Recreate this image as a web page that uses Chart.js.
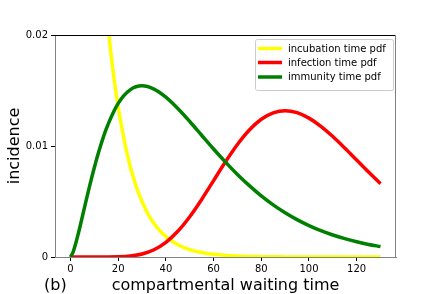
<!DOCTYPE html>
<html>
<head>
<meta charset="utf-8">
<script src="https://cdn.jsdelivr.net/npm/chart.js@4"></script>
<style>
html,body{margin:0;padding:0;background:#fff;}
canvas{display:block;}
</style>
</head>
<body>
<canvas id="c" width="440" height="294"></canvas>
<script>
// ---- data ----
const seriesNames = ["incubation time pdf", "infection time pdf", "immunity time pdf"];
const seriesColors = ["#ffff00", "#ff0000", "#008000"];

const incubationT = [0,4,8,12,14,16,18,20,22,24,26,28,30,33,36,40,45,50,55,60,70,80,90,100,110,120,130];
const incubation  = [0.1,0.067,0.0449,0.0301,0.0247,0.0202,0.0165,0.0135,0.0111,0.00907,0.00743,0.00608,0.00498,0.00369,0.00273,0.00183,0.00111,0.00067,0.00041,0.00025,0.00009,0.00003,0.00001,0,0,0,0];

const infectionT = [0,10,15,20,25,30,35,40,45,50,55,60,65,70,75,80,85,90,95,100,105,110,115,120,125,130];
const infection  = [0,0,0.0000024,0.000019,0.000086,0.00027,0.000656,0.001323,0.002317,0.003627,0.005187,0.006884,0.008581,0.010141,0.011444,0.012408,0.012987,0.013176,0.013,0.012511,0.011772,0.010853,0.00982,0.008737,0.007652,0.006605];

const immunityT = [0,1,2,3,4,6,8,10,12,15,20,25,30,35,40,45,50,55,60,65,70,75,80,85,90,95,100,105,110,115,120,125,130];
const immunity  = [0,0.0004,0.00108,0.00188,0.00275,0.00458,0.00638,0.00807,0.00959,0.01154,0.01384,0.01506,0.01542,0.01513,0.0144,0.01338,0.01221,0.01097,0.00973,0.00855,0.00744,0.00643,0.00551,0.0047,0.00399,0.00337,0.00283,0.00237,0.00198,0.00165,0.00137,0.00113,0.00094];

const xTicks = [0,20,40,60,80,100,120];
const yTicks = [0,0.01,0.02];
const yTickLabels = ["0","0.01","0.02"];
const xTitle = "compartmental waiting time";
const yTitle = "incidence";
const panelLabel = "(b)";

// ---- chart ----
const FONT = "'DejaVu Sans', sans-serif";
function pts(t, v){ return t.map((x,i)=>({x:x, y:v[i]})); }

const allT = [incubationT, infectionT, immunityT];
const allV = [incubation, infection, immunity];

const datasets = seriesNames.map((name,i)=>({
  label: name,
  data: pts(allT[i], allV[i]),
  borderColor: seriesColors[i],
  backgroundColor: seriesColors[i],
  borderWidth: 3.5,
  pointRadius: 0,
  fill: false,
  cubicInterpolationMode: 'monotone',
  order: 3 - i
}));

const decor = {
  id: 'decor',
  afterDraw(chart){
    const ctx = chart.ctx, a = chart.chartArea;
    ctx.save();
    // top and right spines
    ctx.lineWidth = 1;
    ctx.strokeStyle = '#000';
    ctx.beginPath(); ctx.moveTo(a.left, a.top+0.5); ctx.lineTo(a.right, a.top+0.5); ctx.stroke();
    ctx.strokeStyle = '#808080';
    ctx.beginPath(); ctx.moveTo(a.right-0.5, a.top); ctx.lineTo(a.right-0.5, a.bottom); ctx.stroke();

    // legend
    const bw = 138, bh = 51;
    const bx = a.right - 3 - bw, by = a.top + 4;
    ctx.fillStyle = 'rgba(255,255,255,0.8)';
    ctx.strokeStyle = '#cccccc';
    ctx.lineWidth = 1;
    ctx.beginPath();
    if (ctx.roundRect) ctx.roundRect(bx+0.5, by+0.5, bw, bh, 2); else ctx.rect(bx+0.5, by+0.5, bw, bh);
    ctx.fill(); ctx.stroke();
    const rows = [by+9.5, by+23.5, by+38];
    ctx.font = "10px " + FONT;
    ctx.textBaseline = 'middle';
    ctx.textAlign = 'left';
    seriesNames.forEach((n,i)=>{
      ctx.strokeStyle = seriesColors[i];
      ctx.lineWidth = 3.5;
      ctx.beginPath(); ctx.moveTo(bx+3, rows[i]); ctx.lineTo(bx+27, rows[i]); ctx.stroke();
      ctx.fillStyle = '#000';
      ctx.fillText(n, bx+33, rows[i]+0.5);
    });

    // axis titles and panel label
    ctx.fillStyle = '#000';
    ctx.font = "16px " + FONT;
    ctx.textBaseline = 'alphabetic';
    ctx.textAlign = 'center';
    ctx.fillText(xTitle, (a.left + a.right)/2, 290);
    ctx.textAlign = 'left';
    ctx.fillText(panelLabel, 44, 290);
    ctx.save();
    ctx.translate(19, (a.top + a.bottom)/2);
    ctx.rotate(-Math.PI/2);
    ctx.textAlign = 'center';
    ctx.fillText(yTitle, 0, 0);
    ctx.restore();
    ctx.restore();
  }
};

new Chart(document.getElementById('c'), {
  type: 'line',
  data: { datasets },
  options: {
    responsive: false,
    animation: false,
    events: [],
    layout: { padding: { top: 35, right: 44, left: 0, bottom: 0 } },
    plugins: { legend: { display: false }, tooltip: { enabled: false } },
    scales: {
      x: {
        type: 'linear',
        min: -6.5, max: 136.5,
        z: 1,
        afterBuildTicks: s => { s.ticks = xTicks.map(v=>({value:v})); },
        afterFit: s => { s.height = 37; },
        grid: { display: true, drawOnChartArea: false, drawTicks: true, tickLength: 4, color: '#000' },
        border: { display: true, color: '#808080', width: 1 },
        ticks: { color: '#000', font: { family: FONT, size: 10 }, padding: 2, maxRotation: 0,
                 callback: v => String(v) }
      },
      y: {
        type: 'linear',
        min: 0, max: 0.02,
        z: 1,
        afterBuildTicks: s => { s.ticks = yTicks.map(v=>({value:v})); },
        afterFit: s => { s.width = 55; },
        grid: { display: true, drawOnChartArea: false, drawTicks: true, tickLength: 4, color: '#000' },
        border: { display: true, color: '#808080', width: 1 },
        ticks: { color: '#000', font: { family: FONT, size: 10 }, padding: 3,
                 callback: (v) => { const k = yTicks.indexOf(v); return k >= 0 ? yTickLabels[k] : ''; } }
      }
    }
  },
  plugins: [decor]
});
</script>
</body>
</html>
